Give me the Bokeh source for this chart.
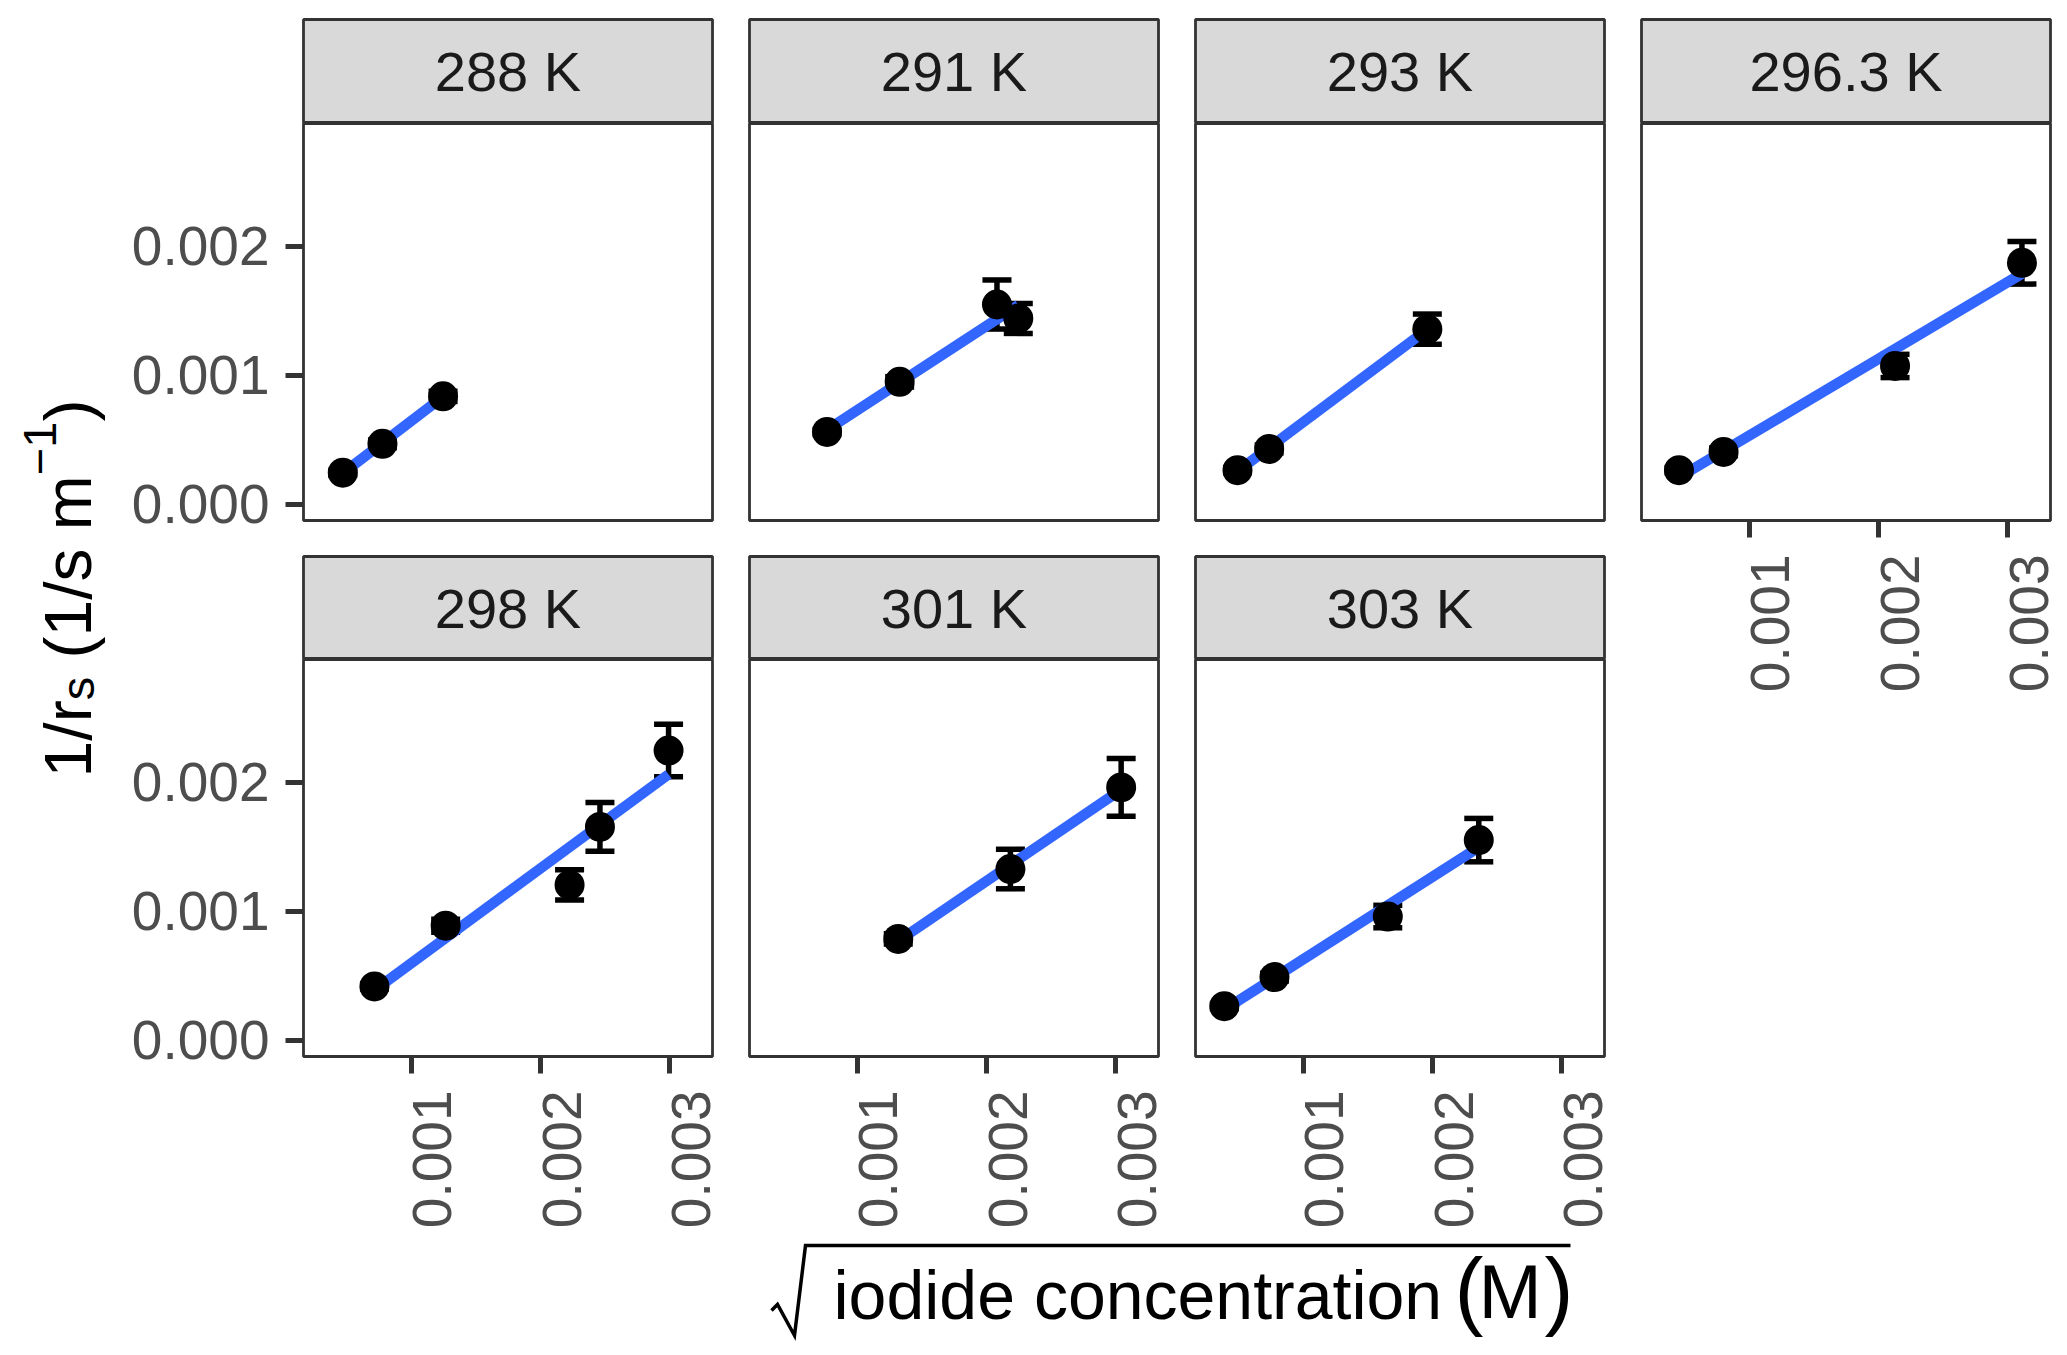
import numpy as np
from math import pi
from bokeh.plotting import figure
from bokeh.models import (Range1d, FixedTicker, NumeralTickFormatter, LinearAxis,
                          Whisker, TeeHead, ColumnDataSource)
from bokeh.layouts import row, column
from bokeh.embed import file_html
from bokeh.resources import INLINE
from bokeh.core.properties import value

# ---------------- data ----------------
temps = ["288 K", "291 K", "293 K", "296.3 K", "298 K", "301 K", "303 K"]

x_288 = [0.000469, 0.000776, 0.001245]
y_288 = [0.000245, 0.000469, 0.000837]
e_288 = [0.00002, 0.00003, 0.00004]

x_291 = [0.000765, 0.001327, 0.002080, 0.002245]
y_291 = [0.000561, 0.000949, 0.001548, 0.001440]
e_291 = [0.00002, 0.00004, 0.00019, 0.000116]

x_293 = [0.000490, 0.000735, 0.001959]
y_293 = [0.000265, 0.000429, 0.001357]
e_293 = [0.00002, 0.00003, 0.000117]

x_296 = [0.000455, 0.000800, 0.002127, 0.003109]
y_296 = [0.000265, 0.000406, 0.001072, 0.001871]
e_296 = [0.00002, 0.00003, 0.00009, 0.000165]

x_298 = [0.000714, 0.001265, 0.002224, 0.002459, 0.002990]
y_298 = [0.000418, 0.000888, 0.001204, 0.001653, 0.002245]
e_298 = [0.00002, 0.00005, 0.000117, 0.000189, 0.000204]

x_301 = [0.001316, 0.002184, 0.003041]
y_301 = [0.000786, 0.001327, 0.001959]
e_301 = [0.00004, 0.000153, 0.000224]

x_303 = [0.000388, 0.000776, 0.001653, 0.002357]
y_303 = [0.000265, 0.000490, 0.000959, 0.001551]
e_303 = [0.00002, 0.00003, 0.000087, 0.000168]

x_ticks = [0.001, 0.002, 0.003]
y_ticks = [0.000, 0.001, 0.002]
x_limits = (0.000165, 0.00333)
y_limits = (-0.000125, 0.00295)

y_title_parts = ["1/r", "s", "(1/s m", "\u22121", ")"]
x_title_parts = ["iodide concentration", "(", "M", ")"]

series = {
    temps[0]: (x_288, y_288, e_288),
    temps[1]: (x_291, y_291, e_291),
    temps[2]: (x_293, y_293, e_293),
    temps[3]: (x_296, y_296, e_296),
    temps[4]: (x_298, y_298, e_298),
    temps[5]: (x_301, y_301, e_301),
    temps[6]: (x_303, y_303, e_303),
}

# ---------------- style ----------------
FONT = "Liberation Sans"
BORDER = "#333333"
TICKC = "#333333"
LABC = "#4D4D4D"
STRIP_FILL = "#D9D9D9"
BLUE = "#3366FF"
FW, FH = 409, 397
TICK_FS = "55px"


def base_fig(**kw):
    p = figure(toolbar_location=None, output_backend="svg", **kw)
    p.grid.visible = False
    p.border_fill_color = "white"
    return p


def make_strip(label, left, right, top, h):
    s = base_fig(frame_width=FW, frame_height=h, x_range=Range1d(0, 1), y_range=Range1d(0, 1),
                 min_border_left=left, min_border_right=right, min_border_top=top,
                 min_border_bottom=0, x_axis_location=None, y_axis_location=None)
    s.background_fill_color = STRIP_FILL
    s.outline_line_color = BORDER
    s.outline_line_width = 2.8
    s.text(x=[0.5], y=[0.5], text=[label], text_align="center", text_baseline="middle",
           text_font=value(FONT), text_font_size="56px", text_color="#1A1A1A")
    return s


def make_panel(label, left, right, bottom, has_x, has_y):
    xs, ys, es = series[label]
    p = base_fig(frame_width=FW, frame_height=FH,
                 x_range=Range1d(*x_limits), y_range=Range1d(*y_limits),
                 min_border_left=left, min_border_right=right, min_border_top=0,
                 min_border_bottom=bottom,
                 x_axis_location="below" if has_x else None,
                 y_axis_location="left" if has_y else None)
    p.background_fill_color = "white"
    p.outline_line_color = BORDER
    p.outline_line_width = 2.8

    xa = np.array(xs)
    ya = np.array(ys)
    ea = np.array(es)
    slope, icpt = np.polyfit(xa, ya, 1)
    lx = np.array([xa.min(), xa.max()])
    p.line(lx, slope * lx + icpt, line_color=BLUE, line_width=10.5)

    src = ColumnDataSource(dict(x=xa, y=ya, lower=ya - ea, upper=ya + ea))
    w = Whisker(source=src, base="x", lower="lower", upper="upper", dimension="height",
                line_color="black", line_width=5.5,
                upper_head=TeeHead(size=29, line_width=5.5, line_color="black"),
                lower_head=TeeHead(size=29, line_width=5.5, line_color="black"))
    p.add_layout(w)
    p.scatter("x", "y", source=src, size=30, fill_color="black", line_color=None)

    if has_y:
        ay = p.yaxis[0]
        ay.ticker = FixedTicker(ticks=y_ticks)
        ay.formatter = NumeralTickFormatter(format="0.000")
        ay.major_tick_out = 18
        ay.major_tick_in = 0
        ay.major_tick_line_width = 5
        ay.major_tick_line_color = TICKC
        ay.minor_tick_line_color = None
        ay.axis_line_color = None
        ay.major_label_standoff = 16
        ay.major_label_text_font = FONT
        ay.major_label_text_font_size = TICK_FS
        ay.major_label_text_color = LABC

    if has_x:
        # tick marks only (drawn as "minor" ticks so that no labels are produced)
        ax = p.xaxis[0]
        ax.ticker = FixedTicker(ticks=[], minor_ticks=x_ticks)
        ax.major_tick_line_color = None
        ax.major_tick_out = 0
        ax.major_tick_in = 0
        ax.minor_tick_out = 17
        ax.minor_tick_in = 0
        ax.minor_tick_line_width = 5
        ax.minor_tick_line_color = TICKC
        ax.axis_line_color = None
        ax.major_label_standoff = 0
        # labels-only axis, nudged right like ggplot's vjust for rotated text
        d = 21 * (x_limits[1] - x_limits[0]) / FW
        p.extra_x_ranges = {"lab": Range1d(x_limits[0] - d, x_limits[1] - d)}
        lab = LinearAxis(x_range_name="lab", ticker=FixedTicker(ticks=x_ticks),
                         formatter=NumeralTickFormatter(format="0.000"),
                         major_tick_line_color=None, major_tick_out=0, major_tick_in=0,
                         minor_tick_line_color=None, axis_line_color=None,
                         major_label_orientation=pi / 2, major_label_standoff=17,
                         major_label_text_font=FONT, major_label_text_font_size=TICK_FS,
                         major_label_text_color=LABC)
        p.add_layout(lab, "below")
    return p


LEFTS = [174, 19, 19, 19]
RIGHTS = [18, 18, 18, 14]


def cell(label, col, r):
    has_x = (r == 1) or (col == 3)
    has_y = (col == 0)
    top = 19 if r == 0 else 2
    sh = 104 if r == 0 else 103
    bottom = 175 if has_x else 34
    s = make_strip(label, LEFTS[col], RIGHTS[col], top, sh)
    p = make_panel(label, LEFTS[col], RIGHTS[col], bottom, has_x, has_y)
    return column(s, p, spacing=0)


# ---------------- y title ----------------
YW, HY = 128, 1100
yt = base_fig(frame_width=YW, frame_height=HY, x_range=Range1d(0, YW), y_range=Range1d(0, HY),
              min_border=0, x_axis_location=None, y_axis_location=None)
yt.outline_line_color = None
EM = {"1": 0.556, "/": 0.278, "r": 0.333, "s": 0.5, " ": 0.278, "(": 0.333, ")": 0.333,
      "m": 0.833, "\u2212": 0.584}
F, S = 66, 47
base_x = 67
specs = [(y_title_parts[0], F, 0, 0.0), (y_title_parts[1], S, 10, 0.278 * F),
         (y_title_parts[2], F, 0, 0.0), (y_title_parts[3], S, -28, 0.0),
         (y_title_parts[4], F, 0, 0.0)]
total = 0.0
adv = []
for t, sz, sh, gap in specs:
    wdt = sum(EM.get(c, 0.55) for c in t) * sz
    adv.append(wdt)
    total += wdt + gap
cy = 588
pos = cy + total / 2.0
for (t, sz, sh, gap), wdt in zip(specs, adv):
    yt.text(x=[base_x + sh], y=[HY - pos], text=[t], angle=pi / 2, text_align="left",
            text_baseline="alphabetic", text_font=value(FONT), text_font_size=f"{sz}px",
            text_color="black")
    pos -= wdt + gap

# ---------------- x title ----------------
WX, HX = 1493, 112
xt = base_fig(frame_width=WX, frame_height=HX, x_range=Range1d(0, WX), y_range=Range1d(0, HX),
              min_border=0, x_axis_location=None, y_axis_location=None)
xt.outline_line_color = None
rad_x = [643, 649, 666, 677, 1442]
rad_y = [79, 73, 104, 14, 14]
xt.line(rad_x, [HX - v for v in rad_y], line_color="black", line_width=3.5, line_join="miter")
BASE_Y = 87  # text baseline, px from top of this strip


def xtitle_text(x, t, size):
    yy = HX - (BASE_Y - 0.35 * size)
    xt.text(x=[x], y=[yy], text=[t], text_align="left", text_baseline="alphabetic",
            text_font=value(FONT), text_font_size=f"{size}px", text_color="black")


xtitle_text(705, x_title_parts[0], 68)
xtitle_text(1326, x_title_parts[1], 87)
xtitle_text(1350, x_title_parts[2], 76)
xtitle_text(1416, x_title_parts[3], 87)

# ---------------- layout ----------------
r1 = row(cell(temps[0], 0, 0), cell(temps[1], 1, 0), cell(temps[2], 2, 0), spacing=0)
r2 = row(cell(temps[4], 0, 1), cell(temps[5], 1, 1), cell(temps[6], 2, 1), spacing=0)
mid = column(r1, r2, xt, spacing=0)
c4 = cell(temps[3], 3, 0)
lay = row(yt, mid, c4, spacing=0)

open("out.html", "w").write(file_html(lay, INLINE))
